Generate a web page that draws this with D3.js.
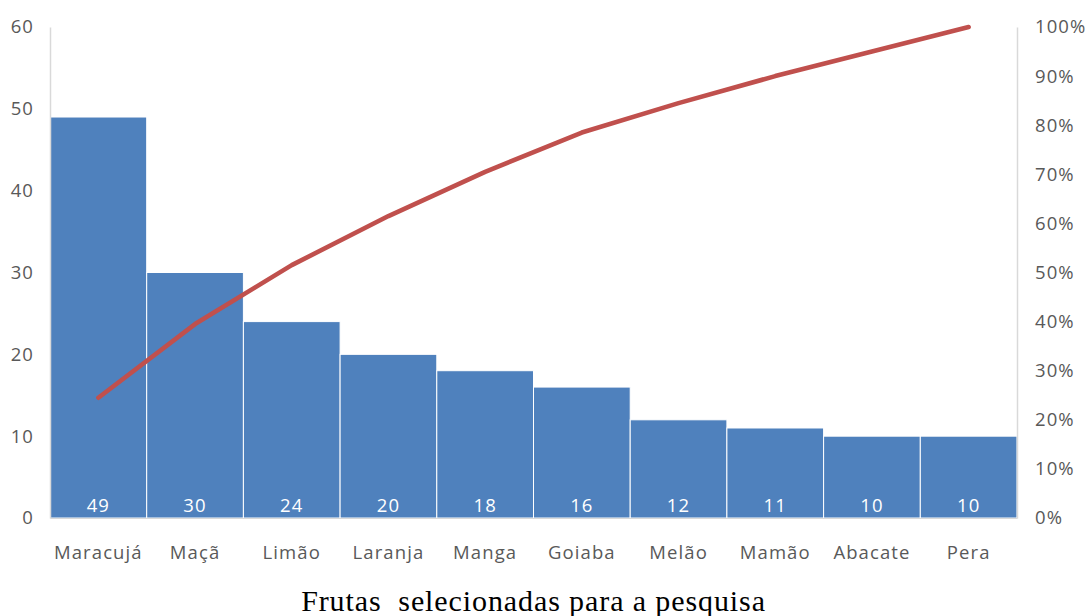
<!DOCTYPE html>
<html>
<head>
<meta charset="utf-8">
<script src="https://cdn.jsdelivr.net/npm/d3@7"></script>
<style>
  html, body { margin: 0; padding: 0; background: #fff; }
  svg { display: block; }
</style>
</head>
<body>
<svg id="chart" width="1090" height="616"></svg>
<script>
// Pareto chart: fruit preference counts with cumulative share
const categories = ["Maracujá", "Maçã", "Limão", "Laranja", "Manga", "Goiaba", "Melão", "Mamão", "Abacate", "Pera"];
const counts = [49, 30, 24, 20, 18, 16, 12, 11, 10, 10];
const leftTicks = [0, 10, 20, 30, 40, 50, 60];
const rightTicks = [0, 0.1, 0.2, 0.3, 0.4, 0.5, 0.6, 0.7, 0.8, 0.9, 1.0];
const xTitle = "Frutas  selecionadas para a pesquisa";

const total = d3.sum(counts);
const cumulative = d3.cumsum(counts).map(v => v / total);

const svg = d3.select("#chart");
const margin = { left: 50, right: 73, top: 27, bottom: 98 };
const W = 1090, H = 616;

const x = d3.scaleBand().domain(categories)
  .range([margin.left, W - margin.right]).padding(0);
const y = d3.scaleLinear().domain([0, 60]).range([H - margin.bottom, margin.top]);
const y2 = d3.scaleLinear().domain([0, 1]).range([H - margin.bottom, margin.top]);

const font = "'Open Sans', 'Noto Sans', sans-serif";
const tickColor = "#595959";
const fs = 18.5;
const ls = "1.1px";

// bars
svg.append("g").selectAll("rect").data(counts).join("rect")
  .attr("x", (d, i) => x(categories[i]))
  .attr("y", d => y(d))
  .attr("width", x.bandwidth())
  .attr("height", d => y(0) - y(d))
  .attr("fill", "#4F81BD")
  .attr("stroke", "#ffffff")
  .attr("stroke-width", 1);

// value labels inside bars
svg.append("g").selectAll("text").data(counts).join("text")
  .attr("x", (d, i) => x(categories[i]) + x.bandwidth() / 2)
  .attr("y", y(0) - 6)
  .attr("text-anchor", "middle")
  .attr("font-family", font)
  .attr("font-size", fs)
  .attr("letter-spacing", ls)
  .attr("fill", "#ffffff")
  .text(d => d);

// axes
const axisLine = "#d9d9d9";
const left = svg.append("g").attr("transform", `translate(${margin.left},0)`)
  .call(d3.axisLeft(y).tickValues(leftTicks).tickSize(0).tickPadding(16));
const right = svg.append("g").attr("transform", `translate(${W - margin.right},0)`)
  .call(d3.axisRight(y2).tickValues(rightTicks).tickFormat(d3.format(".0%")).tickSize(0).tickPadding(18));
const bottom = svg.append("g").attr("transform", `translate(0,${y(0)})`)
  .call(d3.axisBottom(x).tickSize(0).tickPadding(28));

[left, right].forEach(g => {
  g.select(".domain").attr("stroke", axisLine).attr("stroke-width", 1.5);
});
bottom.select(".domain").attr("stroke", axisLine).attr("stroke-width", 1);
[left, right, bottom].forEach(g => {
  g.selectAll("text").attr("font-family", font).attr("font-size", fs)
    .attr("letter-spacing", ls).attr("fill", tickColor);
});

// cumulative line
const line = d3.line()
  .x((d, i) => x(categories[i]) + x.bandwidth() / 2)
  .y(d => y2(d));
svg.append("path").datum(cumulative)
  .attr("d", line)
  .attr("fill", "none")
  .attr("stroke", "#C0504D")
  .attr("stroke-width", 4.6)
  .attr("stroke-linecap", "round")
  .attr("stroke-linejoin", "round");

// axis title
svg.append("text")
  .attr("x", (margin.left + W - margin.right) / 2)
  .attr("y", 611)
  .attr("text-anchor", "middle")
  .attr("font-family", "'Liberation Serif', 'DejaVu Serif', serif")
  .attr("font-size", 30)
  .attr("letter-spacing", "0.9px")
  .style("white-space", "pre")
  .attr("fill", "#000")
  .text(xTitle);
</script>
</body>
</html>
